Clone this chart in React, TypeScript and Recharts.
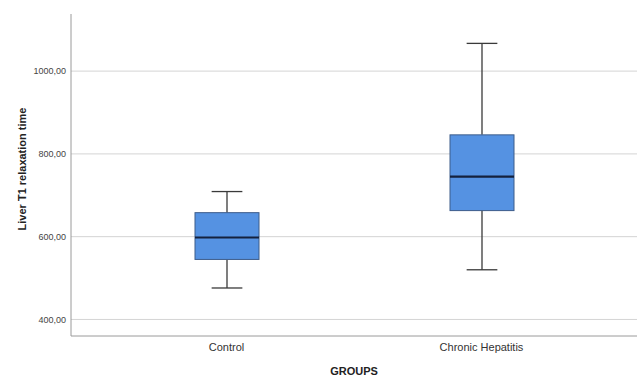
import React from 'react';
import { ComposedChart, Bar, XAxis, YAxis, CartesianGrid } from 'recharts';

const groups = ['Control', 'Chronic Hepatitis'];
const whiskerLow = [476, 520];
const q1 = [545, 663];
const median = [598, 745];
const q3 = [658, 846];
const whiskerHigh = [709, 1067];
const yTicks = [400, 600, 800, 1000];

const data = groups.map((g, i) => ({
  group: g,
  range: [whiskerLow[i], whiskerHigh[i]],
  low: whiskerLow[i],
  q1: q1[i],
  median: median[i],
  q3: q3[i],
  high: whiskerHigh[i],
}));

const BoxShape = (props: any) => {
  const { x, y, width, height, payload } = props;
  const lo = payload.low;
  const hi = payload.high;
  const py = (v: number) => y + (height * (hi - v)) / (hi - lo);
  const cx = x + width / 2;
  const capHalf = width * 0.24;
  const yQ1 = py(payload.q1);
  const yQ3 = py(payload.q3);
  const yMed = py(payload.median);
  const yLo = py(lo);
  const yHi = py(hi);
  return (
    <g>
      <line x1={cx} x2={cx} y1={yHi} y2={yQ3} stroke="#3a3a3a" strokeWidth={1.3} />
      <line x1={cx} x2={cx} y1={yQ1} y2={yLo} stroke="#3a3a3a" strokeWidth={1.3} />
      <line x1={cx - capHalf} x2={cx + capHalf} y1={yHi} y2={yHi} stroke="#3a3a3a" strokeWidth={1.3} />
      <line x1={cx - capHalf} x2={cx + capHalf} y1={yLo} y2={yLo} stroke="#3a3a3a" strokeWidth={1.3} />
      <rect x={x} y={yQ3} width={width} height={yQ1 - yQ3} fill="#5592E2" stroke="#3d5c8a" strokeWidth={1} />
      <line x1={x} x2={x + width} y1={yMed} y2={yMed} stroke="#14213d" strokeWidth={2.2} />
    </g>
  );
};

const fmt = (v: number) => v.toFixed(2).replace('.', ',');

export default function App() {
  return (
    <div style={{ position: 'absolute', left: 0, top: 0, background: '#fff' }}>
      <ComposedChart
        width={638}
        height={376}
        data={data}
        margin={{ top: 14, right: 1, left: 0, bottom: 0 }}
        barCategoryGap="0%"
      >
        <CartesianGrid vertical={false} horizontalValues={yTicks} stroke="#d4d4d4" strokeWidth={1} />
        <XAxis
          dataKey="group"
          height={40}
          padding={{ left: 28, right: 28 }}
          tickLine={false}
          tickSize={0}
          tickMargin={7}
          stroke="#9a9a9a"
          tick={{ fill: '#333', fontSize: 11, fontFamily: 'Liberation Sans, Arial, sans-serif' }}
          label={{
            value: 'GROUPS',
            position: 'insideBottom',
            offset: 1,
            style: { fontWeight: 'bold', fontSize: 11, fill: '#222', fontFamily: 'Liberation Sans, Arial, sans-serif' },
          }}
        />
        <YAxis
          width={71}
          domain={[360, 1138]}
          ticks={yTicks}
          type="number"
          allowDataOverflow
          tickLine={false}
          tickSize={0}
          tickMargin={5}
          stroke="#9a9a9a"
          tickFormatter={fmt}
          tick={{ fill: '#444', fontSize: 9, fontFamily: 'Liberation Sans, Arial, sans-serif' }}
          label={{
            value: 'Liver T1 relaxation time',
            angle: -90,
            position: 'center',
            dx: -13.5,
            dy: -6,
            style: { fontWeight: 'bold', fontSize: 11, fill: '#222', fontFamily: 'Liberation Sans, Arial, sans-serif', textAnchor: 'middle' },
          }}
        />
        <Bar dataKey="range" barSize={64} shape={<BoxShape />} isAnimationActive={false} />
      </ComposedChart>
    </div>
  );
}
